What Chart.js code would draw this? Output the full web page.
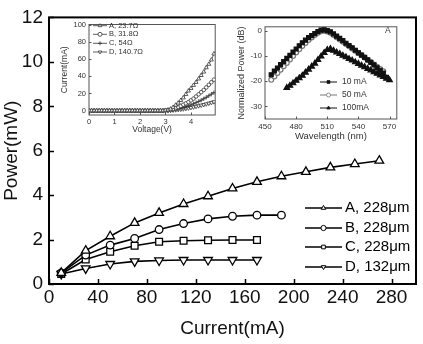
<!DOCTYPE html>
<html><head><meta charset="utf-8">
<script src="https://cdn.jsdelivr.net/npm/chart.js@4/dist/chart.umd.min.js"></script>
<style>
html,body{margin:0;padding:0;background:#fff;}
#wrap{position:relative;width:423px;height:344px;overflow:hidden;background:#fff;}
canvas{position:absolute;}
</style></head><body>
<div id="wrap">
<canvas id="main" width="423" height="344" style="left:0;top:0"></canvas>
<canvas id="iv" width="164" height="121" style="left:56px;top:17px"></canvas>
<canvas id="sp" width="166" height="124" style="left:236px;top:19px"></canvas>
</div>
<script>
// ---------- main chart data: optical power vs current ----------
const currents = [10,30,50,70,90,110,130,150,170,190,210,230,250,270];
const powerA = [0.5,1.5,2.15,2.75,3.2,3.6,3.95,4.3,4.6,4.85,5.05,5.25,5.4,5.55];
const powerB = [0.5,1.3,1.75,2.05,2.45,2.72,2.93,3.05,3.1,3.1];
const powerC = [0.45,1.1,1.45,1.72,1.9,1.95,1.97,1.98,1.98];
const powerD = [0.45,0.7,0.9,1.02,1.06,1.08,1.08,1.08,1.08];
const mainLabels = ['A, 228\u03bcm','B, 228\u03bcm','C, 228\u03bcm','D, 132\u03bcm'];
const mainXTicks = [0,40,80,120,160,200,240,280];
const mainYTicks = [0,2,4,6,8,10,12];

// ---------- inset 1: I-V ----------
const voltages = [0.0,0.1,0.2,0.3,0.4,0.5,0.6,0.7,0.8,0.9,1.0,1.1,1.2,1.3,1.4,1.5,1.6,1.7,1.8,1.9,2.0,2.1,2.2,2.3,2.4,2.5,2.6,2.7,2.8,2.9,3.0,3.1,3.2,3.3,3.4,3.5,3.6,3.7,3.8,3.9,4.0,4.1,4.2,4.3,4.4,4.5,4.6,4.7,4.8,4.9];
const ivA = [0,0,0,0,0,0,0,0,0,0,0,0,0,0,0,0,0,0,0,0,0,0,0,0,0,0,0,0,0,0,0.5,1,2,4,6.5,9,12,15,19,23,26,29.5,33,37,41,45,50,54,59,66];
const ivB = [0,0,0,0,0,0,0,0,0,0,0,0,0,0,0,0,0,0,0,0,0,0,0,0,0,0,0,0,0,0,0.3,0.6,1.2,2,3,4.2,5.5,7,8.5,10,12,14,16.5,19,21.5,24,27,30,33,36];
const ivC = [0,0,0,0,0,0,0,0,0,0,0,0,0,0,0,0,0,0,0,0,0,0,0,0,0,0,0,0,0,0,0.2,0.4,0.7,1.1,1.6,2.2,3,3.8,4.7,5.7,6.8,8,9.3,10.7,12.2,13.8,15.5,17.3,19.2,21];
const ivD = [0,0,0,0,0,0,0,0,0,0,0,0,0,0,0,0,0,0,0,0,0,0,0,0,0,0,0,0,0,0,0.1,0.2,0.4,0.6,0.9,1.2,1.6,2,2.5,3,3.6,4.2,4.9,5.6,6.3,7,7.8,8.6,9.4,10.2];
const ivLabels = ['A, 23.7\u03a9','B, 31.8\u03a9','C, 54\u03a9','D, 140.7\u03a9'];
const ivXTicks = [0,1,2,3,4];
const ivYTicks = [0,20,40,60,80,100];

// ---------- inset 2: spectra ----------
const wavelengths = [456,459,462,465,468,471,474,477,480,483,486,489,492,495,498,501,504,507,510,513,516,519,522,525,528,531,534,537,540,543,546,549,552,555,558,561,564,567,570];
const sp10 = [-17.5,-16,-14.8,-13.5,-12.3,-11,-9.8,-8.5,-7.3,-6,-4.8,-3.8,-2.8,-2,-1.2,-0.4,0.2,0.3,0,-0.5,-1.3,-2.2,-3.1,-4,-5,-5.9,-6.8,-7.8,-8.8,-9.7,-10.6,-11.6,-12.6,-13.6,-14.7,-15.7,-16.8,-18.5,null];
const sp50 = [-19.5,-18.2,-16.8,-15.5,-14.1,-12.8,-11.4,-10.1,-8.7,-7.4,-6.1,-4.9,-3.7,-2.7,-1.7,-0.9,-0.3,-0.1,-0.4,-0.9,-1.7,-2.6,-3.5,-4.4,-5.3,-6.2,-7.1,-8,-8.9,-9.8,-10.7,-11.6,-12.5,-13.4,-14.3,-15.2,-16.1,null,null];
const sp100 = [null,null,null,null,null,-22.6,-21.8,-20.8,-19.8,-18.8,-17.8,-16.6,-15.4,-14.2,-13,-11.6,-10.2,-8.8,-7.6,-7.2,-7.9,-8.6,-9.2,-9.9,-10.5,-11.2,-11.8,-12.5,-13.1,-13.8,-14.4,-15.1,-15.7,-16.4,-17,-17.7,-18.3,-19,-19.6];
const spLabels = ['10 mA','50 mA','100mA'];
const spXTicks = [450,480,510,540,570];
const spYTicks = [0,-10,-20,-30];

// ---------- helpers ----------
function pts(xs, ys){ const out=[]; ys.forEach((v,i)=>{ if(v!==null && v!==undefined) out.push({x:xs[i], y:v}); }); return out; }
function setTicks(arr){ return (scale)=>{ scale.ticks = arr.map(v=>({value:v})); }; }
function marker(ctx, style, r, rot, x, y, fill, stroke, bw){
  ctx.save(); ctx.fillStyle=fill; ctx.strokeStyle=stroke; ctx.lineWidth=bw;
  Chart.helpers.drawPoint(ctx, {pointStyle:style, radius:r, rotation:rot||0, borderWidth:bw}, x, y);
  ctx.restore();
}
const FONT = "'Liberation Sans', Arial, Helvetica, sans-serif";
const NOGRID = {display:false, drawTicks:false, tickLength:0};

const frame = {
  id:'frame',
  beforeDatasetsDraw(chart, args, o){
    const {ctx, chartArea:a} = chart;
    ctx.save();
    ctx.strokeStyle=o.color; ctx.lineWidth=o.width;
    ctx.strokeRect(a.left, a.top, a.right-a.left, a.bottom-a.top);
    ctx.lineWidth=o.tickWidth;
    const xs=chart.scales.x, ys=chart.scales.y;
    ctx.beginPath();
    xs.ticks.forEach(t=>{ const p=Math.round(xs.getPixelForValue(t.value))+0.5; ctx.moveTo(p,a.bottom); ctx.lineTo(p,a.bottom-o.len); });
    ys.ticks.forEach(t=>{ const p=Math.round(ys.getPixelForValue(t.value))+0.5; ctx.moveTo(a.left,p); ctx.lineTo(a.left+o.len,p); });
    ctx.stroke();
    ctx.restore();
  }
};

const legendBox = {
  id:'legendBox',
  afterDraw(chart, args, o){
    const ctx=chart.ctx;
    ctx.save();
    chart.data.datasets.forEach((ds,i)=>{
      const y=o.rows[i];
      ctx.strokeStyle=ds.borderColor; ctx.lineWidth=o.lineWidth;
      ctx.beginPath(); ctx.moveTo(o.x0,y); ctx.lineTo(o.x1,y); ctx.stroke();
      marker(ctx, ds.pointStyle, o.r, ds.pointRotation, (o.x0+o.x1)/2, y, ds.pointBackgroundColor, ds.borderColor, o.bw);
      ctx.fillStyle=o.color; ctx.font=o.font; ctx.textBaseline='middle'; ctx.textAlign='left';
      ctx.fillText(ds.label, o.tx, y);
    });
    if(o.note){ ctx.font=o.font; ctx.fillStyle=o.color; ctx.fillText(o.note.text, o.note.x, o.note.y); }
    ctx.restore();
  }
};

// ---------- main chart ----------
const mainStyles = [
  {s:'triangle', r:5, rot:0},
  {s:'circle', r:3.8, rot:0},
  {s:'rect', r:4.8, rot:0},
  {s:'triangle', r:5, rot:180}
];
const mainSeries = [powerA, powerB, powerC, powerD];
new Chart(document.getElementById('main'), {
  type:'line',
  data:{ datasets: mainSeries.map((vals,i)=>({
    label: mainLabels[i], data: pts(currents, vals),
    borderColor:'#000', backgroundColor:'#fff', pointBackgroundColor:'#fff', pointBorderColor:'#000',
    borderWidth:1.6, pointBorderWidth:1.3, pointStyle:mainStyles[i].s, pointRadius:mainStyles[i].r,
    pointRotation:mainStyles[i].rot, tension:0, fill:false
  }))},
  plugins:[frame, legendBox],
  options:{
    responsive:false, animation:false, devicePixelRatio:1,
    layout:{padding:{left:0, top:12, right:7, bottom:0}},
    plugins:{
      legend:{display:false}, tooltip:{enabled:false},
      frame:{color:'#000', width:2, tickWidth:1.5, len:5},
      legendBox:{x0:305, x1:342, tx:345, rows:[208,228,247,267], r:2.6, bw:1, lineWidth:1.6, color:'#000', font:"15px "+FONT}
    },
    scales:{
      x:{type:'linear', min:0, max:300,
        afterBuildTicks:setTicks(mainXTicks),
        afterFit:(s)=>{s.height=60;},
        grid:NOGRID, border:{display:false},
        ticks:{color:'#111', padding:2, maxRotation:0, autoSkip:false, font:{family:FONT, size:19}},
        title:{display:true, text:'Current(mA)', color:'#111', padding:{top:0,bottom:4}, font:{family:FONT, size:19}}
      },
      y:{type:'linear', min:0, max:12,
        afterBuildTicks:setTicks(mainYTicks),
        afterFit:(s)=>{s.width=49;},
        grid:NOGRID, border:{display:false},
        ticks:{color:'#111', padding:6, autoSkip:false, font:{family:FONT, size:19}},
        title:{display:true, text:'Power(mW)', color:'#111', padding:{top:0,bottom:0}, font:{family:FONT, size:19}}
      }
    }
  }
});

// ---------- inset 1 ----------
const ivStyles = [
  {s:'triangle', r:2.3, rot:0, f:'#fff'},
  {s:'circle', r:1.8, rot:0, f:'#fff'},
  {s:'cross', r:2.2, rot:0, f:'#333'},
  {s:'triangle', r:2.3, rot:180, f:'#fff'}
];
const ivSeries = [ivA, ivB, ivC, ivD];
new Chart(document.getElementById('iv'), {
  type:'line',
  data:{ datasets: ivSeries.map((vals,i)=>({
    label: ivLabels[i], data: pts(voltages, vals),
    borderColor:'#333', pointBackgroundColor:ivStyles[i].f, pointBorderColor:'#333',
    borderWidth:0.8, pointBorderWidth:0.8, pointStyle:ivStyles[i].s, pointRadius:ivStyles[i].r,
    pointRotation:ivStyles[i].rot, tension:0, fill:false
  }))},
  plugins:[frame, legendBox],
  options:{
    responsive:false, animation:false, devicePixelRatio:1,
    layout:{padding:{left:0, top:5, right:4, bottom:0}},
    plugins:{
      legend:{display:false}, tooltip:{enabled:false},
      frame:{color:'#555', width:1, tickWidth:1, len:2.5},
      legendBox:{x0:37, x1:51, tx:53, rows:[8.7,17.3,26.3,35], r:2, bw:0.8, lineWidth:0.8, color:'#333', font:"7.5px "+FONT}
    },
    scales:{
      x:{type:'linear', min:0, max:4.95,
        afterBuildTicks:setTicks(ivXTicks),
        afterFit:(s)=>{s.height=23;},
        grid:NOGRID, border:{display:false},
        ticks:{color:'#333', padding:2.5, maxRotation:0, autoSkip:false, font:{family:FONT, size:7.5}},
        title:{display:true, text:'Voltage(V)', color:'#333', padding:{top:0,bottom:3}, font:{family:FONT, size:8.5}}
      },
      y:{type:'linear', min:-5, max:100,
        afterBuildTicks:setTicks(ivYTicks),
        afterFit:(s)=>{s.width=33;},
        grid:NOGRID, border:{display:false},
        ticks:{color:'#333', padding:3, autoSkip:false, font:{family:FONT, size:7.5}},
        title:{display:true, text:'Current(mA)', color:'#333', padding:{top:4,bottom:0}, font:{family:FONT, size:8.5}}
      }
    }
  }
});

// ---------- inset 2 ----------
const spStyles = [
  {s:'rect', r:2.8, rot:0, f:'#111', c:'#111'},
  {s:'circle', r:2.4, rot:0, f:'#fff', c:'#777'},
  {s:'triangle', r:3.2, rot:0, f:'#111', c:'#111'}
];
const spSeries = [sp10, sp50, sp100];
new Chart(document.getElementById('sp'), {
  type:'line',
  data:{ datasets: spSeries.map((vals,i)=>({
    label: spLabels[i], data: pts(wavelengths, vals),
    borderColor:spStyles[i].c, pointBackgroundColor:spStyles[i].f, pointBorderColor:spStyles[i].c,
    borderWidth:2, pointBorderWidth:1.2, pointStyle:spStyles[i].s, pointRadius:spStyles[i].r,
    pointRotation:0, tension:0, fill:false
  }))},
  plugins:[frame, legendBox],
  options:{
    responsive:false, animation:false, devicePixelRatio:1,
    layout:{padding:{left:0, top:5, right:5, bottom:0}},
    plugins:{
      legend:{display:false}, tooltip:{enabled:false},
      frame:{color:'#555', width:1, tickWidth:1, len:2.5},
      legendBox:{x0:84, x1:101, tx:106, rows:[63,76,89], r:2, bw:0.8, lineWidth:1, color:'#333', font:"8.5px "+FONT,
        note:{text:'A', x:149, y:12}}
    },
    scales:{
      x:{type:'linear', min:450, max:577,
        afterBuildTicks:setTicks(spXTicks),
        afterFit:(s)=>{s.height=24;},
        grid:NOGRID, border:{display:false},
        ticks:{color:'#333', padding:3, maxRotation:0, autoSkip:false, font:{family:FONT, size:8}},
        title:{display:true, text:'Wavelength (nm)', color:'#333', padding:{top:0,bottom:1}, font:{family:FONT, size:9.5}}
      },
      y:{type:'linear', min:-35, max:1.5,
        afterBuildTicks:setTicks(spYTicks),
        afterFit:(s)=>{s.width=29;},
        grid:NOGRID, border:{display:false},
        ticks:{color:'#333', padding:3, autoSkip:false, font:{family:FONT, size:8}},
        title:{display:true, text:'Normalized Power (dB)', color:'#333', padding:{top:0,bottom:0}, font:{family:FONT, size:9}}
      }
    }
  }
});
</script>
</body></html>
